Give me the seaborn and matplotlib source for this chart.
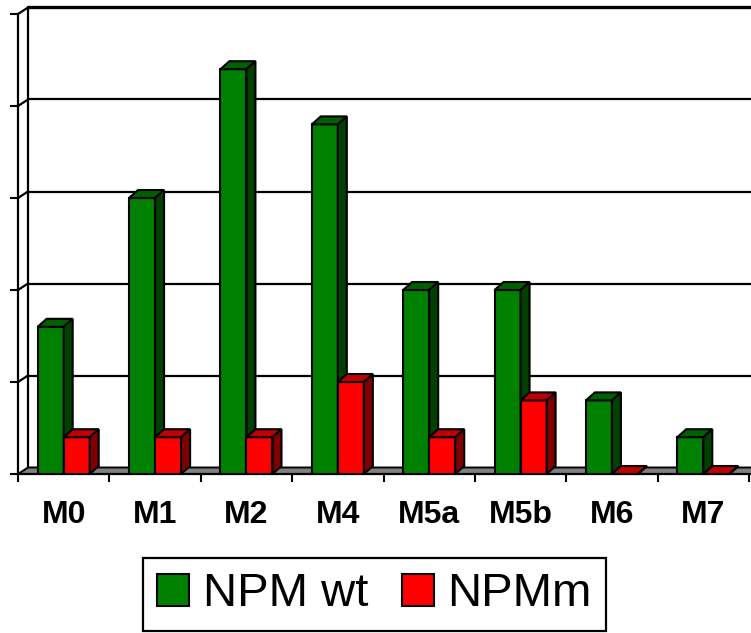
import numpy as np
import pandas as pd
import matplotlib
matplotlib.use("Agg")
import matplotlib.pyplot as plt
import seaborn as sns
from matplotlib.patches import Polygon, Patch
from matplotlib.lines import Line2D

# Data
categories = ["M0", "M1", "M2", "M4", "M5a", "M5b", "M6", "M7"]
npm_wt = [8, 15, 22, 19, 10, 10, 4, 2]
npm_m = [2, 2, 2, 5, 2, 4, 0, 0]
series_names = ["NPM wt", "NPMm"]
y_ticks = [0, 5, 10, 15, 20, 25]

sns.set_theme(style="white")
plt.rcParams["font.family"] = ["Liberation Sans", "DejaVu Sans"]
plt.rcParams["text.color"] = "black"
plt.rcParams["xtick.color"] = "black"
plt.rcParams["ytick.color"] = "black"

df = pd.DataFrame({
    "cat": categories * 2,
    "val": npm_wt + npm_m,
    "series": [series_names[0]] * len(categories) + [series_names[1]] * len(categories),
})

W, H = 751, 633
fig = plt.figure(figsize=(W / 100, H / 100), dpi=100)
ax = fig.add_axes([18 / W, 159 / H, 731 / W, 460 / H])

front = {"NPM wt": "#008000", "NPMm": "#FF0000"}
top = {"NPM wt": "#006000", "NPMm": "#C00000"}
side = {"NPM wt": "#004000", "NPMm": "#800000"}

sns.barplot(data=df, x="cat", y="val", hue="series", palette=front,
            width=0.57, saturation=1, edgecolor="black", linewidth=1.5,
            ax=ax, legend=False)

ax.set_xlim(-0.5, 7.5)
ax.set_ylim(0, 25)

# pixel -> data conversion for the pseudo-3D depth
px_x = 731 / 8.0
px_y = 460 / 25.0
DXB, DYB = 9 / px_x, 8 / px_y      # bar depth
DXW, DYW = 10 / px_x, 6.5 / px_y   # wall depth

# extrude each bar: top face and right side face
for z, (cont, name) in enumerate(zip(ax.containers, series_names)):
    for rect in cont:
        rect.set_zorder(3 + z)
        x0, w, h = rect.get_x(), rect.get_width(), rect.get_height()
        topf = Polygon([(x0, h), (x0 + DXB, h + DYB), (x0 + w + DXB, h + DYB), (x0 + w, h)],
                       closed=True, facecolor=top[name], edgecolor="black",
                       linewidth=1.5, zorder=3 + z, clip_on=False)
        sidef = Polygon([(x0 + w, 0), (x0 + w + DXB, DYB), (x0 + w + DXB, h + DYB), (x0 + w, h)],
                        closed=True, facecolor=side[name], edgecolor="black",
                        linewidth=1.5, zorder=3 + z, clip_on=False)
        ax.add_patch(topf)
        ax.add_patch(sidef)

# floor
floor = Polygon([(-0.5, 0), (-0.5 + DXW, DYW), (8.5, DYW), (8.5, 0)], closed=True,
                facecolor="#808080", edgecolor="black", linewidth=1.4, zorder=2, clip_on=False)
ax.add_patch(floor)

# back wall gridlines and side-wall diagonals
for y in y_ticks[1:]:
    lw = 2.4 if y == y_ticks[-1] else 1.6
    ax.add_line(Line2D([-0.5 + DXW, 8.5], [y + DYW, y + DYW], color="black",
                       linewidth=lw, zorder=1, clip_on=False))
    ax.add_line(Line2D([-0.5, -0.5 + DXW], [y, y + DYW], color="black",
                       linewidth=1.6, zorder=1, clip_on=False))
ax.add_line(Line2D([-0.5 + DXW, -0.5 + DXW], [DYW, y_ticks[-1] + DYW], color="black",
                   linewidth=1.6, zorder=1, clip_on=False))

# front axes
for s in ["top", "right"]:
    ax.spines[s].set_visible(False)
for s in ["left", "bottom"]:
    ax.spines[s].set_color("black")
    ax.spines[s].set_linewidth(1.6)
    ax.spines[s].set_zorder(2.5)

ax.set_yticks(y_ticks)
ax.set_yticklabels([])
ax.tick_params(axis="y", direction="out", length=6, width=1.5, color="black", left=True)
ax.set_xticks(range(len(categories)))
ax.set_xticklabels(categories, fontsize=23, fontweight="bold", color="black")
ax.set_xticks(np.arange(-0.5, len(categories) + 0.5, 1), minor=True)
ax.tick_params(axis="x", which="major", length=0, pad=19)
ax.tick_params(axis="x", which="minor", direction="out", length=6, width=1.5,
               color="black", bottom=True)
ax.set_xlabel("")
ax.set_ylabel("")

handles = [Patch(facecolor=front[n], edgecolor="black", linewidth=1.5) for n in series_names]
leg = fig.legend(handles, series_names, loc="center", bbox_to_anchor=(374.5 / W, 38.5 / H),
                 ncol=2, fontsize=34, frameon=True, fancybox=False, edgecolor="black",
                 handlelength=0.68, handleheight=0.68, handletextpad=0.28,
                 columnspacing=0.72, borderpad=0.3, borderaxespad=0, labelcolor="black")
leg.get_frame().set_linewidth(1.6)
leg.get_frame().set_alpha(1)

fig.savefig("out.png", dpi=100)
